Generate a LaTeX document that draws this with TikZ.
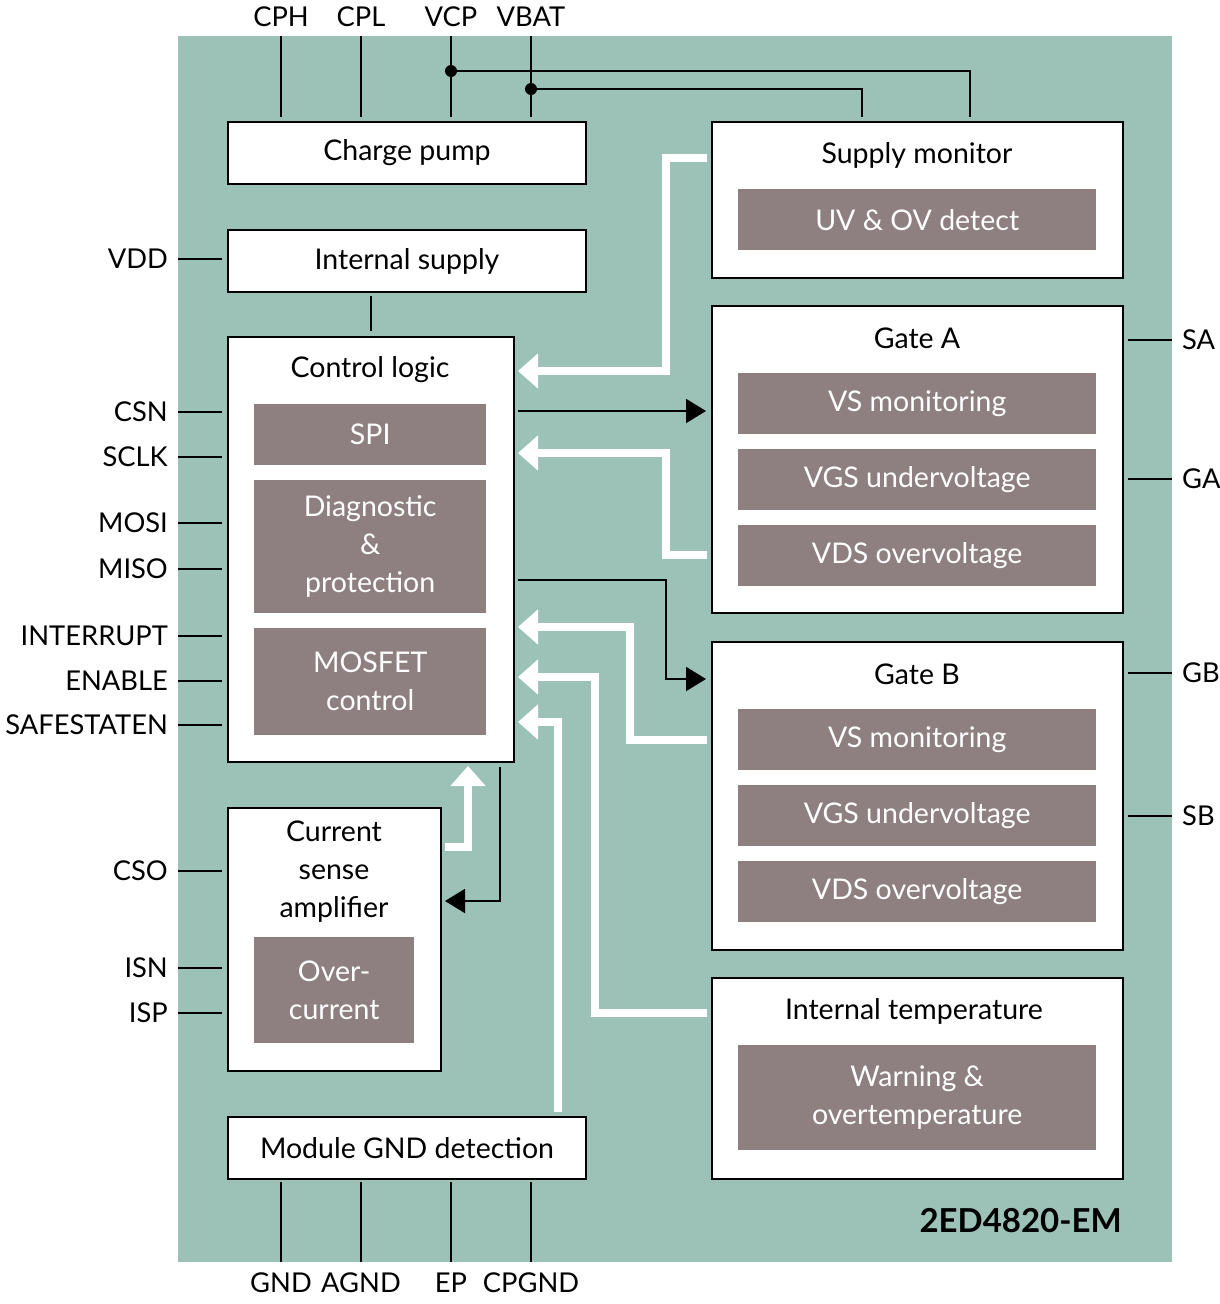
\documentclass[tikz,border=0pt]{standalone}
\usepackage{fontspec}
\setmainfont{Lato}
\usetikzlibrary{arrows.meta}
\definecolor{bggreen}{HTML}{9CC2B7}
\definecolor{subgrey}{HTML}{8E7F80}
\begin{document}
\begin{tikzpicture}[x=1pt,y=-1pt,
  font=\fontsize{28.5}{38}\selectfont,
  blk/.style={draw=black, line width=2pt, fill=white, inner sep=0pt, anchor=north west, align=center},
  sub/.style={fill=subgrey, text=white, inner sep=0pt, anchor=north west, align=center},
  pin/.style={line width=2pt, draw=black},
  wire/.style={line width=2pt, draw=black},
  warr/.style={line width=8pt, draw=white, -{Triangle[width=34pt,length=20pt]}},
  barr/.style={line width=2pt, draw=black, -{Triangle[width=24pt,length=20pt]}},
  dot/.style={circle, fill=black, inner sep=0pt, minimum size=12pt},
  plab/.style={inner sep=0pt, font=\fontsize{27.3}{34}\selectfont}
]
\useasboundingbox (0,0) rectangle (1220,1304);
\fill[bggreen] (178,36) rectangle (1172,1262);

% ---- boxes ----
\node[blk, minimum width=358pt, minimum height=62pt] (cp) at (227,121) {Charge pump};
\node[blk, minimum width=358pt, minimum height=62pt] (is) at (227,229) {Internal supply};
\node[blk, minimum width=286pt, minimum height=425pt] (cl) at (227,336) {};
\node (clt) at (370,370) {Control logic};
\node[sub, minimum width=232pt, minimum height=61pt] (spi) at (254,404) {SPI};
\node[sub, minimum width=232pt, minimum height=133pt] (diag) at (254,480) {Diagnostic\\\&\\protection};
\node[sub, minimum width=232pt, minimum height=107pt] (mos) at (254,628) {MOSFET\\control};
\node[blk, minimum width=213pt, minimum height=263pt] (csa) at (227,807) {};
\node[align=center, inner sep=0pt] (csat) at (334,872) {Current\\sense\\amplifier};
\node[sub, minimum width=160pt, minimum height=106pt] (oc) at (254,937) {Over-\\current};
\node[blk, minimum width=358pt, minimum height=62pt] (mgd) at (227,1116) {Module GND detection};

\node[blk, minimum width=411pt, minimum height=156pt] (sm) at (711,121) {};
\node (smt) at (917,155) {Supply monitor};
\node[sub, minimum width=358pt, minimum height=61pt] (uv) at (738,189) {UV \& OV detect};

\node[blk, minimum width=411pt, minimum height=307pt] (ga) at (711,305) {};
\node (gat) at (917,338) {Gate A};
\node[sub, minimum width=358pt, minimum height=61pt] (gavs) at (738,373) {VS monitoring};
\node[sub, minimum width=358pt, minimum height=61pt] (gavgs) at (738,449) {VGS undervoltage};
\node[sub, minimum width=358pt, minimum height=61pt] (gavds) at (738,525) {VDS overvoltage};

\node[blk, minimum width=411pt, minimum height=308pt] (gb) at (711,641) {};
\node (gbt) at (917,674) {Gate B};
\node[sub, minimum width=358pt, minimum height=61pt] (gbvs) at (738,709) {VS monitoring};
\node[sub, minimum width=358pt, minimum height=61pt] (gbvgs) at (738,785) {VGS undervoltage};
\node[sub, minimum width=358pt, minimum height=61pt] (gbvds) at (738,861) {VDS overvoltage};

\node[blk, minimum width=411pt, minimum height=201pt] (it) at (711,977) {};
\node (itt) at (914,1011) {Internal temperature};
\node[sub, minimum width=358pt, minimum height=105pt] (warn) at (738,1045) {Warning \&\\overtemperature};

\node[anchor=east, inner sep=0pt, font=\fontsize{33}{38}\selectfont\bfseries] (pn) at (1122,1221) {2ED4820-EM};

% ---- top pins ----
\foreach \n/\t/\x in {cph/CPH/281, cpl/CPL/361, vcp/VCP/451, vbat/VBAT/531}{
  \node[plab] (\n) at (\x,17) {\t};
  \coordinate (\n-o) at (\x,36);
  \coordinate (\n-i) at (\x,117);
  \draw[pin] (\n-o) -- (\n-i);
}
\node[dot] (d1) at (451,71) {};
\node[dot] (d2) at (531,89) {};
\coordinate (smv1) at (970,117);
\coordinate (smv2) at (862,117);
\draw[wire] (d1.center) -| (smv1);
\draw[wire] (d2.center) -| (smv2);

% ---- bottom pins ----
\foreach \n/\t/\x in {gnd/GND/281, agnd/AGND/361, ep/EP/451, cpgnd/CPGND/531}{
  \node[plab] (\n) at (\x,1283) {\t};
  \coordinate (\n-o) at (\x,1262);
  \coordinate (\n-i) at (\x,1182);
  \draw[pin] (\n-o) -- (\n-i);
}

% ---- left pins ----
\foreach \n/\t/\y in {vdd/VDD/259, csn/CSN/412, sclk/SCLK/457, mosi/MOSI/523, miso/MISO/569, int/INTERRUPT/636, en/ENABLE/681, ss/SAFESTATEN/725, cso/CSO/871, isn/ISN/968, isp/ISP/1013}{
  \node[plab, anchor=east] (\n) at (168,\y) {\t};
  \coordinate (\n-o) at (178,\y);
  \coordinate (\n-i) at (222,\y);
  \draw[pin] (\n-o) -- (\n-i);
}

% ---- right pins ----
\foreach \n/\t/\y in {sa/SA/340, gap/GA/479, gbp/GB/673, sb/SB/816}{
  \node[plab, anchor=west] (\n) at (1182,\y) {\t};
  \coordinate (\n-o) at (1172,\y);
  \coordinate (\n-i) at (1128,\y);
  \draw[pin] (\n-o) -- (\n-i);
}

% ---- internal supply to control logic ----
\coordinate (is-b) at (371,296);
\coordinate (cl-t) at (371,331);
\draw[wire] (is-b) -- (cl-t);

% ---- signal arrows ----
\coordinate (sm-o) at (707,158);
\coordinate (cl-a1) at (518,371);
\draw[warr] (sm-o) -- (666,158) -- (666,371) -- (cl-a1);

\coordinate (cl-o1) at (518,411);
\coordinate (ga-i) at (706,411);
\draw[barr] (cl-o1) -- (ga-i);

\coordinate (ga-o) at (707,555);
\coordinate (cl-a2) at (518,453);
\draw[warr] (ga-o) -- (666,555) -- (666,453) -- (cl-a2);

\coordinate (cl-o2) at (518,580);
\coordinate (gb-i) at (706,679);
\draw[barr] (cl-o2) -- (666,580) -- (666,679) -- (gb-i);

\coordinate (gb-o) at (707,740);
\coordinate (cl-a3) at (518,627);
\draw[warr] (gb-o) -- (630,740) -- (630,627) -- (cl-a3);

\coordinate (it-o) at (707,1013);
\coordinate (cl-a4) at (518,677);
\draw[warr] (it-o) -- (595,1013) -- (595,677) -- (cl-a4);

\coordinate (mgd-o) at (558,1112);
\coordinate (cl-a5) at (518,722);
\draw[warr] (mgd-o) -- (558,722) -- (cl-a5);

\coordinate (csa-o) at (445,847);
\coordinate (cl-a6) at (468,766);
\draw[warr] (csa-o) -- (468,847) -- (cl-a6);

\coordinate (cl-o3) at (500,767);
\coordinate (csa-i) at (445,901);
\draw[barr] (cl-o3) -- (500,901) -- (csa-i);
\end{tikzpicture}
\end{document}
